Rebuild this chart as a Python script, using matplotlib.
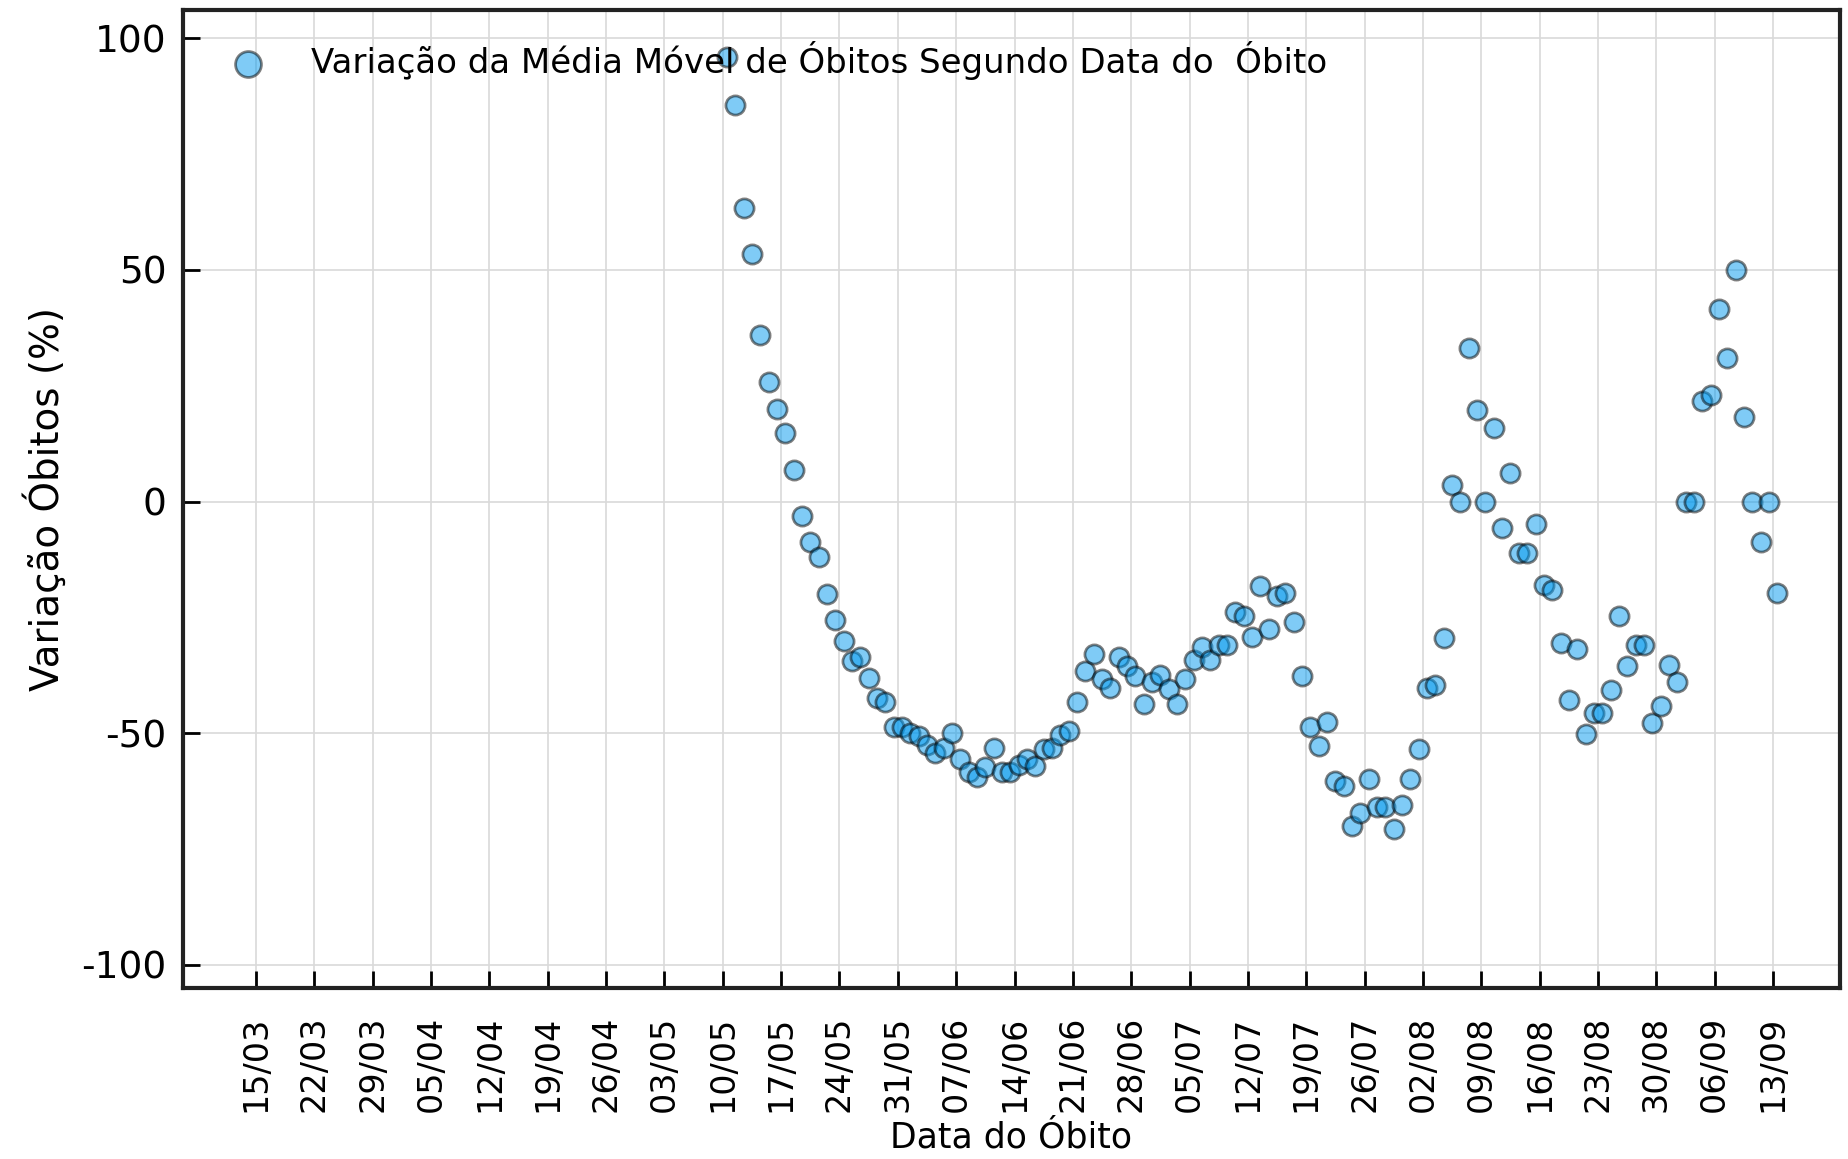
import numpy as np
import pandas as pd
import matplotlib
matplotlib.use("Agg")
import matplotlib.pyplot as plt
import matplotlib.dates as mdates

plt.rcParams["axes.unicode_minus"] = False

# ---------------------------------------------------------------------------
# Data: daily variation (%) of the moving average of deaths, by date of death
# ---------------------------------------------------------------------------

START_DATE = "2020-05-11"

variacao = [
    96.0, 85.5, 63.4, 53.4, 35.9, 25.7, 20.0, 14.8, 6.8, -3.1,
    -8.8, -12.0, -19.9, -25.6, -30.0, -34.4, -33.6, -38.0, -42.3, -43.3,
    -48.6, -48.6, -49.9, -50.7, -52.5, -54.3, -53.1, -49.9, -55.6, -58.4,
    -59.4, -57.2, -53.2, -58.4, -58.4, -56.8, -55.6, -57.1, -53.5, -53.2,
    -50.4, -49.5, -43.3, -36.5, -33.0, -38.3, -40.3, -33.6, -35.5, -37.6,
    -43.7, -38.9, -37.4, -40.5, -43.8, -38.4, -34.1, -31.3, -34.1, -31.0,
    -31.0, -23.9, -24.7, -29.3, -18.3, -27.5, -20.4, -19.8, -26.0, -37.7,
    -48.6, -52.7, -47.6, -60.3, -61.3, -70.0, -67.2, -59.8, -65.9, -65.9,
    -70.7, -65.6, -59.8, -53.4, -40.2, -39.7, -29.5, 3.6, 0.0, 33.2,
    19.8, 0.0, 15.8, -5.7, 6.2, -11.0, -11.0, -4.8, -18.0, -19.0,
    -30.5, -42.9, -31.8, -50.1, -45.7, -45.7, -40.6, -24.7, -35.5, -30.9,
    -30.9, -47.7, -44.2, -35.3, -38.9, 0.0, 0.0, 21.6, 23.0, 41.6,
    31.0, 50.0, 18.2, 0.0, -8.8, 0.0, -19.8,
]

datas = pd.date_range(START_DATE, periods=len(variacao), freq="D")

TICK_START = "2020-03-15"
TICK_END   = "2020-09-13"
XLIM       = ("2020-03-06 06:00", "2020-09-21")
YLIM       = (-105, 106)

LEGEND_LABEL = "Variação da Média Móvel de Óbitos Segundo Data do  Óbito"

# ---------------------------------------------------------------------------
# Figure
# ---------------------------------------------------------------------------

fig = plt.figure(figsize=(18.49, 11.59), dpi=100)
ax = fig.add_axes([0.099, 0.1475, 0.896, 0.8435])

ax.scatter(datas - pd.Timedelta(hours=12), variacao, s=190, c="#0099ee",
           edgecolors="k", linewidths=2, alpha=0.5, zorder=3,
           label=LEGEND_LABEL)

ticks = pd.date_range(TICK_START, TICK_END, freq="7D")
ax.set_xticks(ticks)
ax.xaxis.set_major_formatter(mdates.DateFormatter("%d/%m"))
ax.set_xlim(pd.Timestamp(XLIM[0]), pd.Timestamp(XLIM[1]))
ax.set_ylim(*YLIM)
ax.set_yticks([-100, -50, 0, 50, 100])

ax.grid(True, color="#d9d9d9", linewidth=1.2)
ax.set_axisbelow(True)
ax.tick_params(axis="both", direction="in", length=12, width=2)
ax.tick_params(axis="x", labelrotation=90, labelsize=24, pad=20)
ax.tick_params(axis="y", labelsize=27, pad=12)
for sp in ax.spines.values():
    sp.set_linewidth(3)
    sp.set_color("#222222")

ax.set_xlabel("Data do Óbito", fontsize=25, labelpad=6)
ax.set_ylabel("Variação Óbitos (%)", fontsize=28, labelpad=10)

ax.legend(loc="upper left", frameon=False, fontsize=24.5, markerscale=1.35,
          handletextpad=0.85, borderaxespad=0.5)

fig.savefig("out.png", dpi=100)
